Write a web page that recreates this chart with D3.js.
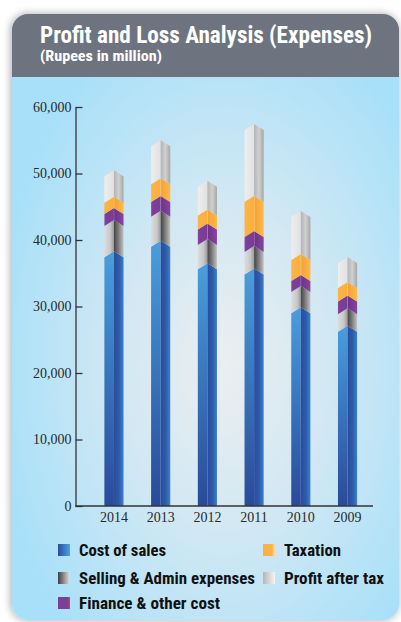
<!DOCTYPE html>
<html>
<head>
<meta charset="utf-8">
<script src="https://cdn.jsdelivr.net/npm/d3@7"></script>
<style>
  html, body { margin: 0; padding: 0; background: #fff; }
  svg { display: block; }
  .narrow { font-family: "Liberation Sans Narrow", "Roboto Condensed", "DejaVu Sans Condensed", "Arial Narrow", sans-serif; font-weight: bold; }
  .axis text { font-family: "Liberation Serif", "DejaVu Serif", serif; font-size: 14px; fill: #2a2a2a; }
  .axis path, .axis line { stroke: #333; stroke-width: 1.3; }
</style>
</head>
<body>
<svg id="chart" width="401" height="622"></svg>
<script>
// values (Rupees in million)
const years = ["2014", "2013", "2012", "2011", "2010", "2009"];
const costOfSales    = [38300, 39900, 36500, 35700, 29900, 27100];
const sellingAdmin   = [4700, 4500, 3650, 3400, 3200, 2650];
const financeCost    = [1800, 2200, 2350, 2250, 1650, 1900];
const taxation       = [1700, 2700, 2100, 5300, 3150, 2050];
const profitAfterTax = [4000, 5700, 4300, 10800, 6450, 3750];
const yTicks = [0, 10000, 20000, 30000, 40000, 50000, 60000];

const seriesKeys = ["cost", "selling", "finance", "tax", "pat"];
const legendLabels = {
  cost: "Cost of sales",
  tax: "Taxation",
  selling: "Selling & Admin expenses",
  pat: "Profit after tax",
  finance: "Finance & other cost"
};
const legendOrder = ["cost", "tax", "selling", "pat", "finance"];

const table = years.map((yr, i) => ({
  year: yr,
  cost: costOfSales[i],
  selling: sellingAdmin[i],
  finance: financeCost[i],
  tax: taxation[i],
  pat: profitAfterTax[i]
}));

const svg = d3.select("#chart");
const defs = svg.append("defs");

// card shadow
const shadow = defs.append("filter").attr("id", "shadow")
  .attr("x", "-10%").attr("y", "-10%").attr("width", "120%").attr("height", "120%");
shadow.append("feDropShadow")
  .attr("dx", -1).attr("dy", 0).attr("stdDeviation", 4)
  .attr("flood-color", "#000").attr("flood-opacity", 0.35);

// card background
const bg = defs.append("radialGradient").attr("id", "bg")
  .attr("cx", 0.55).attr("cy", 0.58).attr("r", 0.6);
bg.append("stop").attr("offset", 0).attr("stop-color", "#eceef0");
bg.append("stop").attr("offset", 0.45).attr("stop-color", "#d2e8f3");
bg.append("stop").attr("offset", 1).attr("stop-color", "#a8e0f9");

function hGrad(id, stops, x1, x2) {
  const g = defs.append("linearGradient").attr("id", id)
    .attr("x1", x1 || 0).attr("x2", x2 === undefined ? 1 : x2).attr("y1", 0).attr("y2", 0);
  stops.forEach(s => g.append("stop").attr("offset", s[0]).attr("stop-color", s[1]));
}
function vGrad(id, stops) {
  const g = defs.append("linearGradient").attr("id", id)
    .attr("x1", 0).attr("x2", 0).attr("y1", 0).attr("y2", 1);
  stops.forEach(s => g.append("stop").attr("offset", s[0]).attr("stop-color", s[1]));
}

// pencil-like bar halves
vGrad("cost-l", [[0, "#4a9edd"], [0.35, "#3c80c6"], [1, "#2a4a99"]]);
hGrad("cost-r", [[0, "#2a4c9b"], [0.55, "#2d5cab"], [1, "#3d82c9"]]);
hGrad("selling-l", [[0, "#dcdcdc"], [0.6, "#c8c8c8"], [1, "#9a9a9a"]]);
hGrad("selling-r", [[0, "#444"], [0.45, "#7a7a7a"], [1, "#c2c2c2"]]);
hGrad("finance-l", [[0, "#8c4a9c"], [0.2, "#7c3e96"], [1, "#7a3d95"]]);
hGrad("finance-r", [[0, "#9a5aa8"], [0.1, "#6e3489"], [1, "#86469f"]]);
hGrad("tax-l", [[0, "#fbb545"], [1, "#fbae3e"]]);
hGrad("tax-r", [[0, "#fcc470"], [0.1, "#f6a434"], [1, "#fdb84c"]]);
hGrad("pat-l", [[0, "#eeeeee"], [1, "#e1e1e1"]]);
hGrad("pat-r", [[0, "#b4b4b4"], [0.5, "#d0d0d0"], [1, "#a6a6a6"]]);

// legend swatches
hGrad("cost-k", [[0, "#2a4c9e"], [1, "#4aa2e2"]]);
hGrad("tax-k", [[0, "#fbb040"], [0.75, "#fcb446"], [1, "#fde0b0"]]);
hGrad("selling-k", [[0, "#3e3e3e"], [1, "#e2e2e2"]]);
hGrad("pat-k", [[0, "#b5b5b5"], [1, "#f4f4f4"]]);
hGrad("finance-k", [[0, "#7b3f98"], [0.8, "#7d3f96"], [1, "#d04050"]]);

// card
svg.append("rect")
  .attr("x", 12).attr("y", 14).attr("width", 387).attr("height", 606)
  .attr("rx", 16)
  .attr("fill", "url(#bg)")
  .attr("filter", "url(#shadow)");

svg.append("path")
  .attr("d", "M12,77 V30 A16,16 0 0 1 28,14 H383 A16,16 0 0 1 399,30 V77 Z")
  .attr("fill", "#6d747f");

svg.append("text").attr("class", "narrow")
  .attr("x", 40).attr("y", 43)
  .attr("font-size", 23).attr("fill", "#fff")
  .attr("textLength", 332).attr("lengthAdjust", "spacingAndGlyphs")
  .text("Profit and Loss Analysis (Expenses)");

svg.append("text").attr("class", "narrow")
  .attr("x", 40).attr("y", 61)
  .attr("font-size", 14).attr("fill", "#fff")
  .attr("textLength", 122).attr("lengthAdjust", "spacingAndGlyphs")
  .text("(Rupees in million)");

// scales
const y = d3.scaleLinear().domain([0, 60000]).range([506, 107]);
const x = d3.scaleBand().domain(years)
  .range([90.6, 370.9]).paddingInner(0.59).paddingOuter(0.295);

const axisX0 = 75.5;

// bars
const stacked = d3.stack().keys(seriesKeys)(table);
const peak = 6;

const barG = svg.append("g");
stacked.forEach((layer, j) => {
  const key = seriesKeys[j];
  const g = barG.append("g").attr("class", "series-" + key);
  layer.forEach(d => {
    const x0 = x(d.data.year);
    const x1 = x0 + x.bandwidth();
    const xc = (x0 + x1) / 2;
    const topApex = y(d[1]);
    const topSh = topApex + peak;
    const botApex = j === 0 ? y(0) : y(d[0]);
    const botSh = j === 0 ? y(0) : y(d[0]) + peak;
    g.append("path")
      .attr("d", `M${x0},${topSh} L${xc},${topApex} L${xc},${botApex} L${x0},${botSh} Z`)
      .attr("fill", `url(#${key}-l)`);
    g.append("path")
      .attr("d", `M${xc},${topApex} L${x1},${topSh} L${x1},${botSh} L${xc},${botApex} Z`)
      .attr("fill", `url(#${key}-r)`);
  });
});

// axes
const yAxis = d3.axisLeft(y)
  .tickValues(yTicks)
  .tickSize(-7)
  .tickSizeOuter(0)
  .tickPadding(4)
  .tickFormat(d3.format(","));

svg.append("g")
  .attr("class", "axis")
  .attr("transform", `translate(${axisX0},0)`)
  .call(yAxis);

const xAxis = d3.axisBottom(x).tickSize(0).tickPadding(6);
const xg = svg.append("g")
  .attr("class", "axis")
  .attr("transform", `translate(0,${y(0)})`)
  .call(xAxis);
xg.select(".domain").remove();
xg.append("line")
  .attr("x1", axisX0).attr("x2", 373)
  .attr("y1", 0).attr("y2", 0);

// legend
const legendCols = [58, 263];
const legendRows = [544, 572, 597];
const legendWidths = { cost: 87, tax: 57, selling: 176, pat: 100, finance: 141 };
const lg = svg.append("g");
legendOrder.forEach((key, i) => {
  const cx = legendCols[i % 2];
  const cy = legendRows[Math.floor(i / 2)];
  lg.append("rect")
    .attr("x", cx).attr("y", cy)
    .attr("width", 12).attr("height", 12)
    .attr("fill", `url(#${key}-k)`);
  lg.append("text").attr("class", "narrow")
    .attr("x", cx + 21).attr("y", cy + 11.5)
    .attr("font-size", 16).attr("fill", "#111")
    .attr("textLength", legendWidths[key]).attr("lengthAdjust", "spacingAndGlyphs")
    .text(legendLabels[key]);
});
</script>
</body>
</html>
